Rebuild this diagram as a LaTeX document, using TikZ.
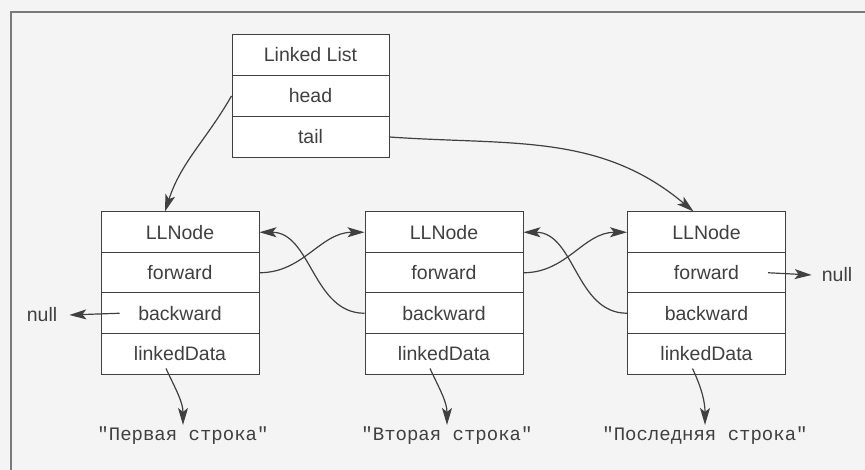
\documentclass[tikz,border=0pt]{standalone}
\usepackage{fontspec}
\setmainfont{Liberation Sans}
\setmonofont{Liberation Mono}
\usetikzlibrary{arrows.meta}
\definecolor{ink}{HTML}{404040}
\definecolor{rahmen}{HTML}{7A7A7A}
\definecolor{papier}{HTML}{F4F4F4}

\begin{document}
\begin{tikzpicture}[x=1pt, y=-1pt]
  \tikzset{
    feld/.style={rectangle,draw=ink,fill=white,minimum width=158pt,minimum height=40.5pt,inner sep=0pt,line width=1pt,text=ink,font=\fontsize{19.5}{22}\selectfont},
    zeiger/.style={draw=ink,line width=1.2pt,-{Stealth[length=17pt,width=10pt,inset=4pt]}},
    wert/.style={text=ink,inner sep=2pt,font=\ttfamily\fontsize{19}{22}\selectfont},
    nil/.style={text=ink,inner ysep=2pt,font=\fontsize{19.5}{22}\selectfont}
  }
  \fill[papier] (0,0) rectangle (865,470);
  \useasboundingbox (0,0) rectangle (865,470);
  \draw[rahmen,line width=1.6pt] (865,12) -- (11,12) -- (11,470);
  % list header
  \node[feld,minimum width=157pt,minimum height=41pt] (ll0) at (310.5,55) {Linked List};
  \node[feld,minimum width=157pt,minimum height=41pt] (ll1) at (310.5,96) {head};
  \node[feld,minimum width=157pt,minimum height=41pt] (ll2) at (310.5,137) {tail};
  % list nodes
  \foreach \i/\x in {1/180,2/444,3/706.5}{
    \node[feld] (k\i-0) at (\x,232.25) {LLNode};
    \node[feld] (k\i-1) at (\x,272.75) {forward};
    \node[feld] (k\i-2) at (\x,313.25) {backward};
    \node[feld] (k\i-3) at (\x,353.75) {linkedData};
  }
  % data strings and nulls
  \node[wert] (w1) at (183,436) {"Первая строка"};
  \node[wert] (w2) at (447,436) {"Вторая строка"};
  \node[wert] (w3) at (705,436) {"Последняя строка"};
  \node[nil,inner xsep=12pt] (nul1) at (42,315) {null};
  \node[nil,inner xsep=10pt] (nul2) at (837,275) {null};
  % links
  \draw[zeiger] (ll1.west) to[out=240,in=72] ([xshift=-15pt]k1-0.north);
  \draw[zeiger] (ll2.east) to[out=-4,in=140] ([xshift=-13pt]k3-0.north);
  \draw[zeiger] (k1-1.east) to[out=0,in=180] (k2-0.west);
  \draw[zeiger] (k2-1.east) to[out=0,in=180] (k3-0.west);
  \draw[zeiger] (k2-2.west) to[out=180,in=0] (k1-0.east);
  \draw[zeiger] (k3-2.west) to[out=180,in=0] (k2-0.east);
  \draw[zeiger] ([xshift=19pt]k1-2.west) -- (nul1.east);
  \draw[zeiger] ([xshift=-18pt]k3-1.east) -- (nul2.west);
  \foreach \i in {1,2,3}
    \draw[zeiger] ([xshift=-14pt,yshift=6pt]k\i-3.south) to[out=-65,in=90] (w\i.north);
\end{tikzpicture}
\end{document}
